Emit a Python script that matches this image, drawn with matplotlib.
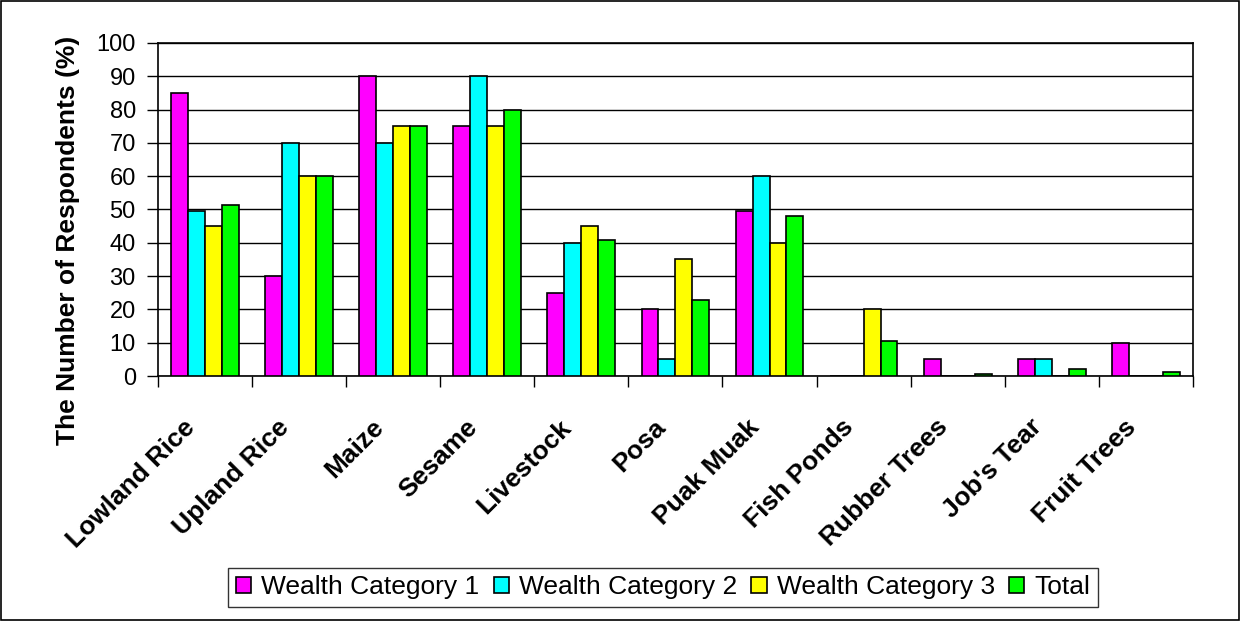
import matplotlib
matplotlib.use("Agg")
import matplotlib.pyplot as plt
import numpy as np
from matplotlib.patches import Rectangle
from matplotlib.transforms import ScaledTranslation

categories = ["Lowland Rice", "Upland Rice", "Maize", "Sesame", "Livestock", "Posa",
              "Puak Muak", "Fish Ponds", "Rubber Trees", "Job's Tear", "Fruit Trees"]
wealth1 = [85, 30, 90, 75, 25, 20, 49.5, 0, 5, 5, 10]
wealth2 = [49.5, 70, 70, 90, 40, 5, 60, 0, 0, 5, 0]
wealth3 = [45, 60, 75, 75, 45, 35, 40, 20, 0, 0, 0]
total = [51.2, 60, 75, 80, 40.7, 22.8, 48, 10.5, 0.5, 2.1, 1.1]
series_names = ["Wealth Category 1", "Wealth Category 2", "Wealth Category 3", "Total"]
colors = ["#FF00FF", "#00FFFF", "#FFFF00", "#00FF00"]
yticks = list(range(0, 101, 10))

plt.rcParams['font.family'] = ['Liberation Sans', 'DejaVu Sans']

fig = plt.figure(figsize=(12.4, 6.21), dpi=100)
fig.patches.append(Rectangle((0.001, 0.001), 0.998, 0.997, transform=fig.transFigure,
                             fill=False, edgecolor='black', linewidth=1.2))
ax = fig.add_axes([0.1274, 0.3945, 0.8346, 0.5363])

n = len(categories)
x = np.arange(n)
bw = 0.18
series = [wealth1, wealth2, wealth3, total]
for i, (vals, c, name) in enumerate(zip(series, colors, series_names)):
    ax.bar(x + (i - 1.5) * bw, vals, width=bw, color=c, edgecolor='black',
           linewidth=1.2, label=name, zorder=3)

ax.set_xlim(-0.5, n - 0.5)
ax.set_ylim(0, 100)
ax.set_yticks(yticks)
ax.set_yticklabels([str(t) for t in yticks], fontsize=17)
ax.yaxis.grid(True, color='black', linewidth=1.0, zorder=0)
ax.set_axisbelow(True)

ax.set_xticks(np.arange(-0.5, n, 1.0))
ax.set_xticklabels([])
ax.set_xticks(x, minor=True)
ax.set_xticklabels(categories, minor=True, rotation=45, ha='right',
                   rotation_mode='anchor', fontsize=19, fontweight='bold')
ax.tick_params(axis='x', which='minor', length=0, pad=10)
ax.tick_params(axis='x', which='major', length=8, width=1, direction='out')
ax.tick_params(axis='y', length=8, width=1, direction='out', pad=8)

off = ScaledTranslation(-0.22, -0.25, fig.dpi_scale_trans)
for lab in ax.get_xticklabels(minor=True):
    lab.set_transform(lab.get_transform() + off)

for s in ax.spines.values():
    s.set_linewidth(1.2)
    s.set_color('black')

ax.set_ylabel("The Number of Respondents (%)", fontsize=19, fontweight='bold')
ax.yaxis.set_label_coords(-0.0754, 0.408)

leg = fig.legend(loc='center', bbox_to_anchor=(0.5347, 0.054), ncol=4, fontsize=19,
                 frameon=True, fancybox=False, edgecolor='black', handlelength=0.57,
                 handleheight=0.57, handletextpad=0.38, columnspacing=0.55,
                 borderpad=0.3)
leg.get_frame().set_linewidth(1.0)

fig.savefig("out.png", dpi=100)
